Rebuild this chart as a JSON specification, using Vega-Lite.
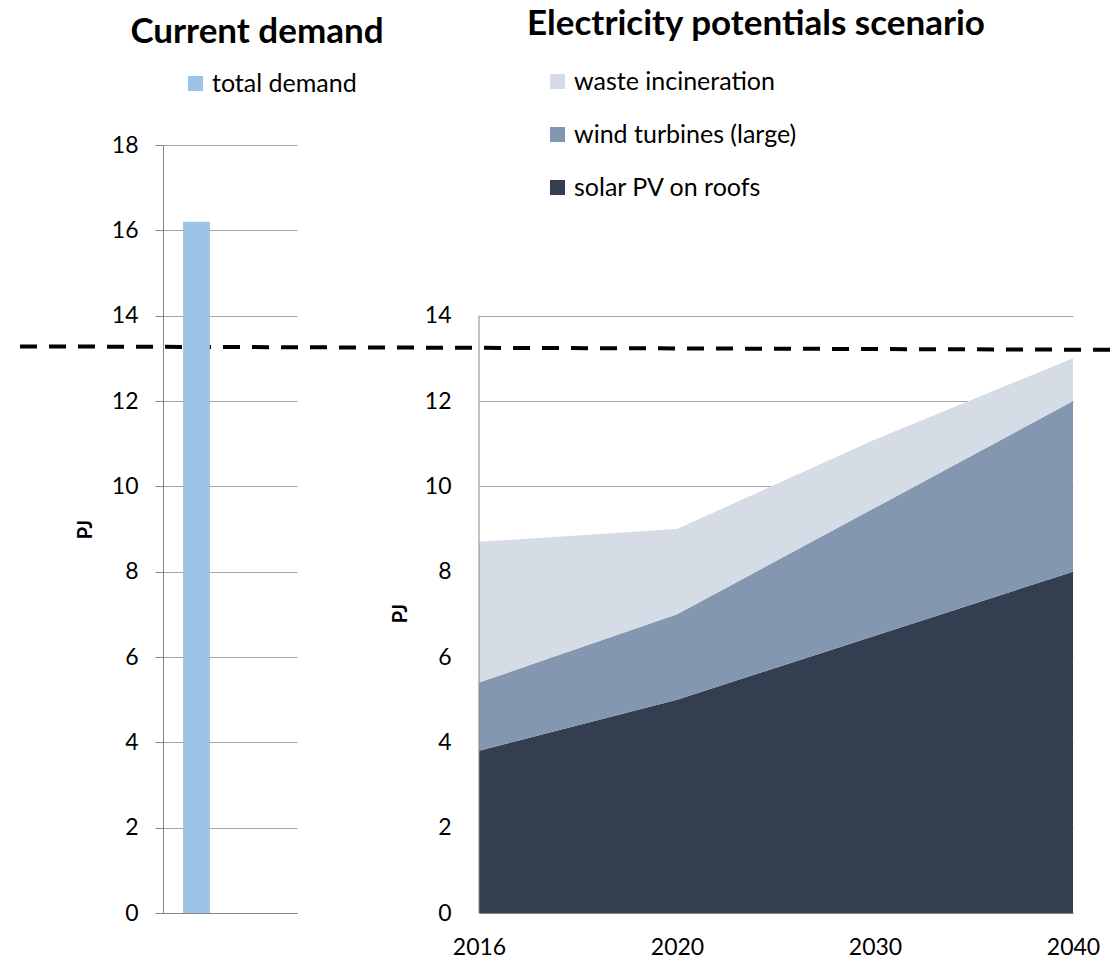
{
  "$schema": "https://vega.github.io/schema/vega-lite/v6.json",
  "background": "white",
  "padding": {"left": 18, "top": 7, "right": 0, "bottom": 5},
  "bounds": "flush",
  "spacing": 182,
  "resolve": {"scale": {"color": "independent", "y": "independent"}, "legend": {"color": "independent"}},
  "config": {
    "view": {"stroke": null},
    "font": "Lato",
    "axis": {
      "labelFont": "Lato", "labelFontSize": 23, "labelColor": "#000000",
      "titleFont": "Lato", "titleFontSize": 20, "titleFontWeight": "bold", "titleColor": "#000000",
      "gridColor": "#A6A6A6", "domainColor": "#868686", "tickColor": "#868686"
    },
    "legend": {
      "labelFont": "Lato", "labelFontSize": 25, "labelColor": "#000000", "labelLimit": 400,
      "symbolType": "square", "symbolSize": 225, "symbolStrokeWidth": 0, "padding": 0, "symbolOpacity": 1
    },
    "title": {"font": "Lato", "fontSize": 35, "fontWeight": "bold", "color": "#000000"}
  },
  "hconcat": [
    {
      "width": 134,
      "height": 768,
      "title": {"text": "Current demand", "dx": 27, "offset": 21},
      "layer": [
        {
          "data": {"values": [{}]},
          "mark": {"type": "rule", "strokeDash": [17, 12], "strokeWidth": 4, "color": "#000000", "clip": false},
          "encoding": {
            "x": {"datum": -1.067, "type": "quantitative", "scale": {"domain": [0, 1], "nice": false, "zero": false}, "axis": null},
            "x2": {"datum": 7.127},
            "y": {"datum": 13.28, "type": "quantitative", "scale": {"domain": [0, 18], "nice": false},
                  "axis": {"values": [0, 2, 4, 6, 8, 10, 12, 14, 16, 18], "title": "PJ", "grid": true, "tickSize": 8, "labelPadding": 17, "titlePadding": 16}},
            "y2": {"datum": 13.2}
          }
        },
        {
          "data": {"values": [{"category": "Current", "series": "total demand", "value": 16.2}]},
          "mark": {"type": "bar"},
          "encoding": {
            "x": {"field": "category", "type": "nominal",
                  "scale": {"domain": ["Current", "Future"], "paddingInner": 0.6, "paddingOuter": 0.3},
                  "axis": {"labels": false, "ticks": false, "title": null, "domain": true, "grid": false}},
            "y": {"field": "value", "type": "quantitative", "scale": {"domain": [0, 18], "nice": false},
                  "axis": {"values": [0, 2, 4, 6, 8, 10, 12, 14, 16, 18], "title": "PJ", "grid": true, "tickSize": 8, "labelPadding": 17, "titlePadding": 16}},
            "color": {"field": "series", "type": "nominal", "scale": {"domain": ["total demand"], "range": ["#9DC3E6"]},
                      "legend": {"orient": "none", "legendX": 20, "legendY": -74, "title": null}}
          }
        }
      ],
      "resolve": {"scale": {"x": "independent"}}
    },
    {
      "width": 594,
      "height": 768,
      "title": {"text": "Electricity potentials scenario", "dx": -20, "offset": 27},
      "layer": [
        {
          "data": {"values": [
            {"year": "2016", "series": "solar PV on roofs", "rank": 1, "value": 3.8},
            {"year": "2016", "series": "wind turbines (large)", "rank": 2, "value": 1.6},
            {"year": "2016", "series": "waste incineration", "rank": 3, "value": 3.3},
            {"year": "2020", "series": "solar PV on roofs", "rank": 1, "value": 5.0},
            {"year": "2020", "series": "wind turbines (large)", "rank": 2, "value": 2.0},
            {"year": "2020", "series": "waste incineration", "rank": 3, "value": 2.0},
            {"year": "2030", "series": "solar PV on roofs", "rank": 1, "value": 6.5},
            {"year": "2030", "series": "wind turbines (large)", "rank": 2, "value": 3.0},
            {"year": "2030", "series": "waste incineration", "rank": 3, "value": 1.6},
            {"year": "2040", "series": "solar PV on roofs", "rank": 1, "value": 8.0},
            {"year": "2040", "series": "wind turbines (large)", "rank": 2, "value": 4.0},
            {"year": "2040", "series": "waste incineration", "rank": 3, "value": 1.0}
          ]},
          "mark": {"type": "area", "opacity": 1},
          "encoding": {
            "x": {"field": "year", "type": "ordinal",
                  "scale": {"type": "point", "domain": ["2016", "2020", "2030", "2040"], "padding": 0},
                  "axis": {"labelAngle": 0, "ticks": false, "title": null, "domain": true, "grid": false, "labelPadding": 23}},
            "y": {"field": "value", "type": "quantitative", "stack": "zero",
                  "scale": {"domain": [0, 18], "nice": false},
                  "axis": {"values": [0, 2, 4, 6, 8, 10, 12, 14], "grid": true, "ticks": false, "domain": false, "labelPadding": 28, "title": "PJ", "titleY": 468, "titlePadding": 14}},
            "order": {"field": "rank", "type": "quantitative", "sort": "ascending"},
            "color": {"field": "series", "type": "nominal",
                      "scale": {"domain": ["waste incineration", "wind turbines (large)", "solar PV on roofs"], "range": ["#D6DCE5", "#8497B0", "#333F50"]},
                      "legend": {"orient": "none", "legendX": 66, "legendY": -76, "title": null, "direction": "vertical", "rowPadding": 27}}
          }
        },
        {
          "data": {"values": [{}]},
          "mark": {"type": "rule", "color": "#868686", "strokeWidth": 1},
          "encoding": {
            "x": {"datum": "2016", "type": "ordinal"},
            "y": {"datum": 0, "type": "quantitative"},
            "y2": {"datum": 14}
          }
        }
      ]
    }
  ]
}
